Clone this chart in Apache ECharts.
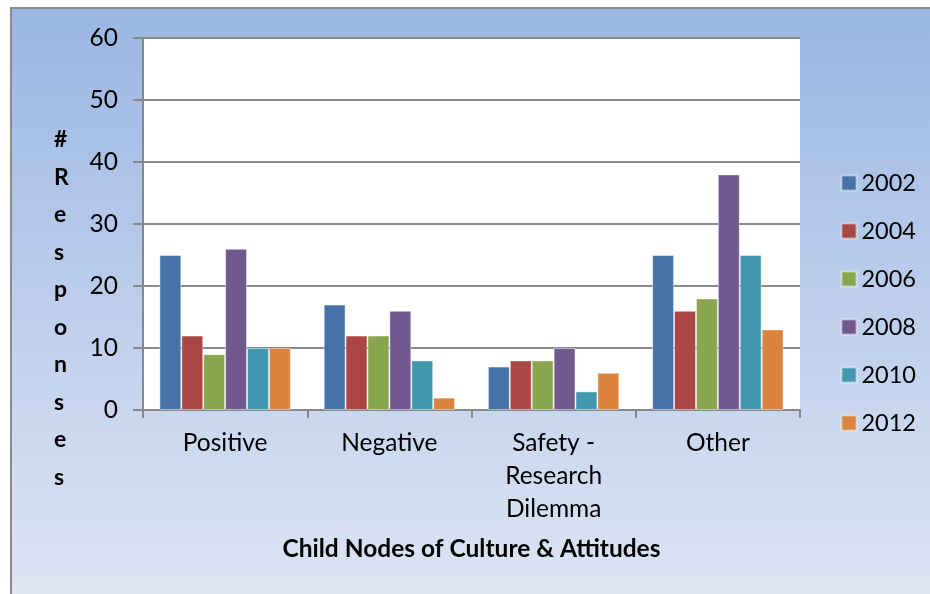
<!DOCTYPE html>
<html>
<head>
<meta charset="utf-8">
<script src="https://cdn.jsdelivr.net/npm/echarts@6/dist/echarts.min.js"></script>
<style>
  html, body { margin: 0; padding: 0; background: #fff; }
  #chart { width: 930px; height: 594px; }
</style>
</head>
<body>
<div id="chart"></div>
<script>
const categories = ['Positive', 'Negative', 'Safety -\nResearch\nDilemma', 'Other']
const years = ['2002', '2004', '2006', '2008', '2010', '2012']
const v2002 = [25, 17, 7, 25]
const v2004 = [12, 12, 8, 16]
const v2006 = [9, 12, 8, 18]
const v2008 = [26, 16, 10, 38]
const v2010 = [10, 8, 3, 25]
const v2012 = [10, 2, 6, 13]
const colors = ['#4572a7', '#aa4643', '#89a54e', '#71588f', '#4198af', '#db843d']
const yTitle = '#Responses'
const xTitle = 'Child Nodes of Culture & Attitudes'

const seriesValues = [v2002, v2004, v2006, v2008, v2010, v2012]
const font = 'Lato, "Open Sans", sans-serif'

const chart = echarts.init(document.getElementById('chart'))

chart.setOption({
  backgroundColor: '#fff',
  animation: false,
  color: colors,
  graphic: [
    {
      type: 'rect', z: -10,
      shape: { x: 11, y: 8, width: 940, height: 600 },
      style: {
        fill: new echarts.graphic.LinearGradient(0, 0, 0, 1, [
          { offset: 0, color: '#9ab6e3' },
          { offset: 1, color: '#dfe6f4' }
        ]),
        stroke: '#8c8c8c', lineWidth: 2
      }
    },
    {
      type: 'text', left: 54, top: 121,
      style: {
        text: yTitle.split('').join('\n'),
        font: 'bold 23px ' + font,
        fill: '#000', lineHeight: 37.5, align: 'center'
      }
    }
  ],
  grid: {
    left: 143, top: 38, right: 130, bottom: 184,
    show: true, backgroundColor: '#fff', borderWidth: 0
  },
  legend: {
    orient: 'vertical', right: 9, top: 166,
    itemWidth: 15, itemHeight: 15, itemGap: 24,
    icon: 'rect',
    textStyle: { fontSize: 23.5, fontFamily: font, color: '#000' },
    data: years
  },
  xAxis: {
    type: 'category',
    data: categories,
    name: xTitle,
    nameLocation: 'middle',
    nameGap: 127,
    nameTextStyle: { fontSize: 24.5, fontWeight: 'bold', fontFamily: font, color: '#000' },
    axisLine: { lineStyle: { color: '#888', width: 2 } },
    axisTick: { show: true, length: 8, lineStyle: { color: '#888', width: 2 } },
    axisLabel: { fontSize: 24.5, fontFamily: font, color: '#000', margin: 16.5, lineHeight: 33 }
  },
  yAxis: {
    type: 'value',
    min: 0, max: 60, interval: 10,
    axisLine: { show: true, lineStyle: { color: '#888', width: 2 } },
    axisTick: { show: true, length: 10, lineStyle: { color: '#888', width: 2 } },
    axisLabel: { fontSize: 24.5, fontFamily: font, color: '#000', margin: 25 },
    splitLine: { lineStyle: { color: '#8a8a8a', width: 2 } }
  },
  series: years.map((y, i) => ({
    name: y,
    type: 'bar',
    data: seriesValues[i],
    barGap: '0%',
    barCategoryGap: '20%',
    itemStyle: { borderColor: 'rgba(255,255,255,0.45)', borderWidth: 1 }
  }))
})
</script>
</body>
</html>
